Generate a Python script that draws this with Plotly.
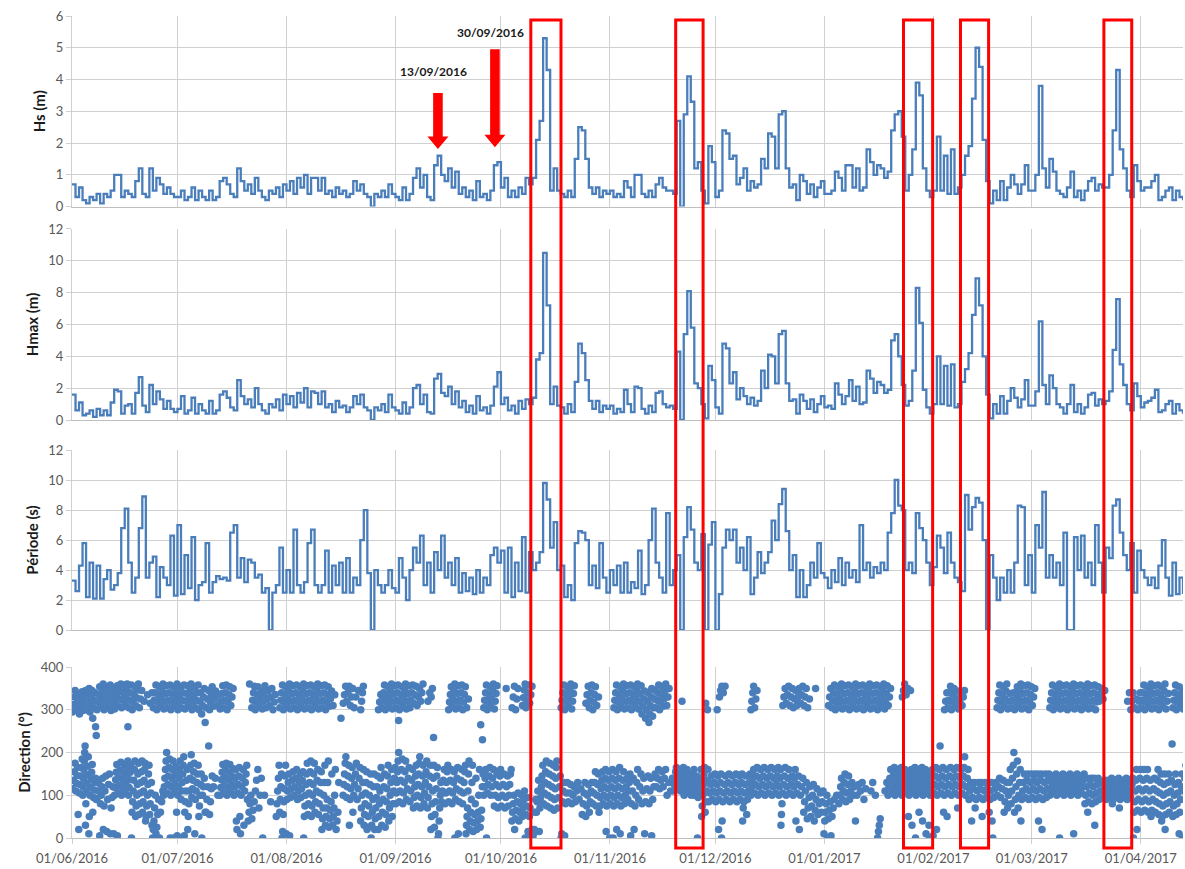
import plotly.graph_objects as go
import pandas as pd

start = pd.Timestamp('2016-06-01')
x_end = '2017-04-13'

# ---- Hs (m), one value per day from 01/06/2016 ----
hs = [
    # Jun
    0.7,0.3,0.6,0.2,0.1,0.3,0.2,0.4,0.1,0.4,0.3,0.5,1.0,1.0,0.3,0.5,0.4,0.3,0.8,1.2,0.4,0.3,1.2,0.5,0.9,0.7,0.4,0.6,0.4,0.3,
    # Jul
    0.3,0.5,0.2,0.3,0.6,0.2,0.5,0.3,0.2,0.5,0.2,0.3,0.8,0.9,0.7,0.4,0.3,1.2,0.8,0.5,0.7,0.4,0.9,0.5,0.3,0.2,0.5,0.4,0.6,0.3,0.7,
    # Aug
    0.5,0.8,0.4,0.9,0.6,1.0,0.4,0.9,0.9,0.5,0.9,0.4,0.5,0.3,0.6,0.4,0.5,0.3,0.4,0.8,0.5,0.7,0.4,0.3,0.0,0.4,0.3,0.5,0.3,0.7,0.4,
    # Sep
    0.3,0.2,0.6,0.2,0.4,0.9,1.2,0.6,1.0,0.3,0.2,1.3,1.6,1.0,0.8,1.2,0.6,1.1,0.4,0.6,0.3,0.5,0.2,0.8,0.3,0.4,0.2,0.5,1.3,1.4,
    # Oct
    0.6,0.9,0.3,0.5,0.3,0.6,0.4,0.9,0.7,0.9,2.1,2.7,5.3,4.3,0.5,1.2,0.5,0.4,0.3,0.5,0.3,1.5,2.5,2.4,1.5,0.6,0.4,0.6,0.3,0.5,0.4,
    # Nov
    0.5,0.3,0.4,0.3,0.8,0.6,0.3,1.0,1.0,0.4,0.3,0.5,0.3,0.7,0.9,0.6,0.5,0.5,0.4,2.7,0.0,2.9,4.1,3.3,1.2,1.4,0.5,0.1,1.9,1.4,
    # Dec
    0.3,0.5,2.4,2.3,1.5,1.6,0.7,0.9,1.2,0.5,0.8,0.6,0.7,1.5,1.2,2.3,2.2,1.2,2.9,3.0,1.2,0.6,0.7,0.2,1.0,0.8,0.4,0.7,0.3,0.6,0.8,
    # Jan
    0.4,0.4,0.5,1.1,0.9,0.5,1.3,1.3,0.6,1.2,0.5,0.6,1.8,1.4,1.0,1.3,1.2,0.9,1.1,2.4,2.9,3.0,2.2,0.5,1.0,1.8,3.9,3.5,1.2,0.5,0.3,
    # Feb
    0.5,2.2,0.5,1.6,0.4,1.8,0.4,0.6,1.0,1.6,1.9,3.4,5.0,4.4,2.1,0.8,0.1,0.5,0.2,0.8,0.2,0.6,1.0,0.7,0.4,0.7,1.3,0.5,
    # Mar
    0.5,1.0,3.8,1.2,0.6,1.5,1.1,0.5,0.4,0.3,0.6,1.1,0.3,0.5,0.2,0.5,0.8,0.9,0.5,0.7,0.6,0.6,1.0,2.4,4.3,1.8,1.2,0.5,0.3,1.3,0.8,
    # Apr
    0.5,0.6,0.6,0.8,1.0,0.2,0.3,0.5,0.6,0.2,0.5,0.3,0.2,
]

# ---- Hmax (m) ----
hmax = [
    1.6,0.6,1.1,0.3,0.4,0.6,0.2,0.7,0.3,0.6,0.3,1.1,1.9,1.8,0.4,0.9,1.0,0.4,1.7,2.7,0.9,0.5,2.2,1.0,1.8,1.3,0.7,1.2,0.7,0.5,
    0.7,1.5,0.4,0.6,1.4,0.4,1.0,0.6,0.4,1.2,0.4,0.6,1.6,1.8,1.4,0.8,0.6,2.5,1.5,1.0,1.3,0.8,2.0,1.0,0.6,0.4,1.0,0.8,1.3,0.6,1.6,
    1.0,1.5,0.8,1.7,1.1,2.0,0.8,1.8,1.7,1.0,1.8,0.8,1.0,0.5,1.2,0.8,0.9,0.5,0.8,1.5,1.0,1.6,0.8,0.6,0.0,0.8,0.6,1.0,0.5,1.6,0.8,
    0.6,0.4,1.1,0.4,0.8,2.0,2.2,1.0,1.6,0.5,0.4,2.6,2.9,1.7,1.5,2.1,1.0,1.8,0.8,1.2,0.5,0.9,0.4,1.5,0.6,0.8,0.4,0.9,2.1,3.0,
    1.0,1.4,0.6,0.9,0.4,1.2,0.7,1.3,1.0,1.4,3.8,4.2,10.5,7.2,1.0,2.1,0.9,0.8,0.4,1.0,0.5,2.4,4.8,4.2,2.5,1.2,0.7,1.2,0.5,0.9,0.7,
    0.9,0.4,0.7,0.5,1.9,1.0,0.5,2.1,2.0,0.7,0.4,0.9,0.5,1.7,1.8,1.0,0.8,0.9,0.7,4.3,0.0,5.4,8.1,5.8,2.3,2.0,1.0,0.1,3.4,2.5,
    0.8,0.4,4.8,4.5,2.3,3.0,1.3,2.0,1.5,1.0,1.4,0.9,1.2,3.1,2.0,4.1,4.0,2.3,5.4,5.6,2.3,1.2,1.3,0.4,1.6,1.2,0.7,1.3,0.5,1.0,1.5,
    0.8,0.9,0.7,2.3,1.6,1.0,1.5,2.5,1.2,2.1,1.0,1.1,3.1,2.6,1.7,2.4,2.2,1.7,1.9,5.0,5.4,4.0,2.2,0.9,1.2,3.1,8.3,6.1,1.9,0.8,0.4,
    1.0,4.0,1.0,3.4,0.9,3.5,0.8,1.0,2.4,3.2,4.2,6.6,8.9,7.2,4.0,1.6,0.1,1.0,0.4,1.5,0.4,1.2,2.0,1.4,0.8,1.3,2.5,0.9,
    0.9,1.8,6.2,2.2,1.0,2.8,2.0,1.0,0.8,0.4,1.0,2.2,0.5,1.0,0.4,0.8,1.6,1.7,0.9,1.3,1.0,1.2,1.8,4.4,7.6,3.5,2.2,1.0,0.6,2.3,1.5,
    0.8,1.1,1.2,1.4,1.9,0.5,0.6,1.0,1.2,0.4,1.0,0.6,0.4,
]

# ---- Période (s) ----
periode = [
    3.3,2.6,4.3,5.8,2.2,4.5,2.1,4.3,2.1,3.4,4.0,2.7,3.0,3.8,6.8,8.1,4.5,2.5,3.5,6.8,8.9,3.5,4.5,4.9,2.2,4.2,3.5,3.0,6.3,2.3,
    7.0,2.4,5.0,2.8,6.2,2.0,3.0,3.2,5.8,2.5,3.2,3.6,3.4,3.5,3.3,6.5,7.0,3.5,4.8,3.2,4.7,4.5,3.5,3.7,2.5,2.8,0.0,2.5,3.0,5.5,2.5,
    4.0,2.5,6.7,3.0,2.5,3.2,5.8,6.7,3.0,2.5,3.0,5.3,2.5,4.3,3.0,4.5,2.5,4.8,2.5,3.5,3.0,6.0,8.0,3.8,0.0,4.0,3.0,2.5,3.0,4.0,2.8,
    2.5,4.8,3.5,2.0,4.0,5.5,4.5,6.3,3.0,4.5,2.5,5.2,4.0,6.3,3.5,4.5,3.0,4.8,2.5,3.8,2.6,3.5,2.4,4.0,2.5,3.5,3.0,5.0,5.5,4.5,
    5.3,2.5,5.5,2.2,4.5,2.6,6.2,2.5,5.2,4.0,4.5,5.2,9.8,8.7,5.5,7.2,4.0,4.3,2.2,3.0,2.0,5.8,6.6,6.5,6.0,3.0,4.3,2.8,5.8,3.5,2.5,
    4.0,3.0,4.3,2.5,4.5,2.5,3.2,2.8,5.3,2.4,3.0,6.0,8.1,4.5,3.5,2.5,7.8,3.0,4.0,5.0,0.0,6.2,8.2,6.7,4.5,4.0,6.4,0.0,5.7,7.2,
    0.0,2.4,5.5,6.7,6.0,6.7,4.5,5.5,4.0,6.2,2.4,3.5,5.2,3.8,4.5,5.2,7.3,6.0,8.4,9.4,6.6,4.0,5.0,2.2,4.0,2.2,3.0,4.5,3.5,5.8,3.8,
    3.5,2.8,4.0,3.2,4.8,3.0,4.5,3.5,4.0,3.2,7.0,4.0,4.5,3.5,4.2,3.8,4.5,4.0,6.5,7.8,10.0,8.3,8.0,4.0,4.5,3.8,7.8,6.8,6.0,4.5,3.0,
    4.2,6.3,5.5,3.8,6.5,4.5,3.5,3.2,2.6,9.0,6.7,8.2,8.8,8.5,6.0,0.0,5.0,3.5,2.0,3.5,2.5,4.0,2.5,4.5,8.3,8.2,3.0,5.0,
    2.5,7.0,5.5,9.2,3.5,5.0,3.5,4.5,3.0,6.5,0.0,0.0,6.2,4.0,6.3,3.5,4.5,3.0,7.0,4.5,2.5,5.5,4.8,8.3,8.7,6.5,5.0,4.0,5.8,2.5,5.3,
    4.0,3.5,3.0,3.5,2.8,4.3,6.0,3.5,2.3,4.5,2.4,3.5,2.4,
]

# ---- Direction (°): readings of each day, NW group (upper) and SE group (lower) ----
dir_upper = [
    # Jun
    [295,312,330,345],[300,318,336],[290,308,325,342],[298,315,333,345],[300,318,336,350],[295,312,330,345,280],[305,322,340,260,240],[300,318,336,354],[309,327,345,360],[300,318,336,354],
    [305,322,340,358],[298,315,333,350],[302,320,338,356],[308,326,344,360],[305,322,340,358],[310,328,346,360,260],[305,322,340,358],[300,318,336,354],[310,328,346,360],[305,325,345],
    [320],[335],[315,340],[305,322,340,358],[300,318,336,354],[308,326,344,360],[302,320,338,356],[305,322,340,358],[300,318,336,354],[308,326,344,360],
    # Jul
    [300,318,336,354],[305,322,340,358],[302,320,338,356],[308,326,344,360],[300,318,336,354],[305,322,340,358],[300,320,340,290],[310,330,350,270],[305,325,345],[300,318,336,354],
    [308,326,344],[310,335],[302,320,338,356],[305,322,340,358],[300,318,336,354],[310,330,350],[],[],[],[],
    [360],[305,322,340,355],[300,318,336,354],[308,326,344],[302,320,338,356],[305,325,345],[310,330,350],[300,318,336],[],[305,322,340,358],
    [300,318,336,354],
    # Aug
    [308,326,344,360],[302,320,338,356],[305,322,340,358],[300,318,336,354],[308,326,344,360],[302,320,338,356],[305,322,340,358],[300,318,336,354],[308,326,344,360],[302,320,338,356],
    [305,322,340,358],[300,318,336,354],[308,326,344],[310,335],[],[280],[315,335,355],[320,340,355],[310,330,350],[305,330],
    [345],[300,320,340,355],[],[],[],[],[300,318,336],[305,322,340,358],[300,318,336,354],[308,326,344,360],
    [302,320,338,356],
    # Sep
    [305,322,340,358,275],[300,318,336,354],[308,326,344,360],[302,320,338,356],[305,322,340,358],[315,335,355],[310,330,350],[320,340,360],[],[320,340],
    [330,350,235],[],[],[],[],[300,318,336,354],[308,326,344,360],[302,320,338,356],[305,322,340,358],[300,318,336,354],
    [305,325],[],[],[],[265,230],[305,322,340,358],[300,318,336,354],[308,326,344,360],[302,320,338,356],[],
    # Oct
    [],[350],[],[305,330,355],[300,325,350],[],[310,328,346,360],[305,322,340,358],[315,335,355],[],
    [],[],[],[],[],[],[],[305,322,340,358],[300,318,336,354],[308,326,344,360],
    [302,320,338,356],[],[],[],[315,335,355],[305,322,340,358],[300,318,336,354],[310,330],[],[],
    [],
    # Nov
    [],[305,322,340,358],[300,318,336,354],[308,326,344,360],[302,320,338,356],[305,322,340,358],[300,318,336,354],[308,326,344,360],[302,320,338,356],[290,308,326,344],
    [280,300,320,340],[270,290,310,330,350],[285,305,325,345],[305,322,340,358],[300,318,336,354],[308,326,344,360],[310,330,350],[],[],[],
    [320],[],[],[],[],[],[],[315,300],[],[],
    # Dec
    [300],[330,345,355],[340,355],[],[],[],[],[],[],[],
    [300,320,340,355],[305,325,345],[],[],[],[],[],[],[],[310,330,350],
    [315,335,355],[310,330,350],[305,325,345],[310,330,350],[315,335,355],[310,330,350],[305,325],[],[350],[],
    [],
    # Jan
    [],[310,330,350],[305,322,340,358],[300,318,336,354],[308,326,344,360],[302,320,338,356],[305,322,340,358],[300,318,336,354],[308,326,344,360],[302,320,338,356],
    [305,322,340,358],[300,318,336,354],[308,326,344,360],[302,320,338,356],[305,322,340,358],[300,318,336,354],[308,326,344,360],[302,320,338,356],[310,330,350],[],
    [],[],[330,345,360],[335,350],[345],[],[],[],[],[],
    [],
    # Feb
    [],[],[],[300,320,340],[305,322,340,355],[300,318,336,350],[308,326,344],[302,320,338],[310,330,345],[],
    [],[],[],[],[],[],[],[],[305,322,340,358],[300,318,336,354],
    [308,326,344,360],[302,320,338],[305,322,340],[300,318,336,354],[308,326,344,360],[302,320,338,356],[305,322,340,358],[300,318,336,354],
    # Mar
    [310,330,350],[],[],[],[],[305,322,340,358],[300,318,336,354],[308,326,344,360],[302,320,338,356],[305,322,340,358],
    [300,318,336,354],[308,326,344,360],[302,320,338,356],[305,322,340,358],[300,318,336,354],[308,326,344,360],[302,320,338,356],[305,322,340,358],[300,318,336,354],[320,335,350],
    [325,345],[],[],[],[],[],[],[320,340],[300,320,340],[305,325],
    [300,320,340],
    # Apr
    [305,322,340,358],[300,318,336,354],[308,326,344,360],[302,320,338,356],[305,322,340,358],[300,318,336,354],[308,326,344,360],[302,320,338],[],[305,322,340,358],
    [300,318,336,354],[308,326,344],[302,320,338,356],
]

dir_lower = [
    # Jun
    [115,135,155,175],[110,128,146,165,55,20],[105,125,145,165,185],[100,120,140,160,180,200,215,30,80],[108,128,148,168,190,10,50],[100,118,136,154,172,60],[95,112,130,140,90],[92,110,128,5],[80,100,120,140,20],[75,110,145,15],
    [90,125,150,10],[70,95,120,10],[100,118,136,154,172,5],[105,123,141,159,177],[100,118,136,154,172],[108,126,144,162,180],[100,118,136,154,172,0],[60,85,110,135,160,180],[50,75,100,125,150,175],[55,80,105,130,155,180],
    [60,85,110,135,160,175,40],[50,75,100,125,150,170],[55,80,105,130,30,0],[20,40,70,100,10],[25,55,90,0],[60,85,110],[100,120,140,160,180,200],[105,125,145,165,185,0],[100,120,140,160,180,0],[108,128,148,168,60,5],
    # Jul
    [100,120,140,160,180,0],[90,110,130,150,170,190,5],[60,85,110,135,160,20],[50,80,110,140,170,195],[95,115,135,155,175,10],[90,110,130,150,170],[50,75,100,125,150,0],[100,120,140,60],[60,90,120,215],[55,85,115,145],
    [120,140],[100],[100,118,136,154,172],[105,123,141,159,175],[100,118,136,154,172],[108,126,144,162],[100,120,140,160,40,20],[105,125,145,165,50,10],[100,120,140,160,30],[110,130,150,170,90],
    [40,60,80,100],[45,65,85],[110,135,160],[70,100,140],[0,100],[],[85],[],[50,80,110,140,170],[60,90,120,150,0,15],
    [55,85,115,145,170,10],
    # Aug
    [90,110,130,150,5],[95,115,135,155],[100,120,140,160],[90,110,130,150],[95,115,135,155,0],[50,75,100,125,150,175],[55,80,105,130,155,180],[50,75,100,125,150,175],[60,85,110,135,160],[55,80,105,130,155],
    [20,45,70,100,130,170],[30,50,70,90,130,180],[25,45,65,85,150],[30,50,70,100,160],[20,40,60,130],[],[100,125,150,175,190],[95,120,145,170,30],[90,115,140,165,60],[100,125,150,175],
    [90,115,140,165],[40,70,100,130,160],[30,55,80,105,130,155,20],[25,50,75,100,125,150],[0,30,60,90,120,150],[20,45,70,95,120,145],[20,50,80,110,140,165],[30,60,90,120,150],[25,55,85,115,145,170],[40,70,100,130,160],
    [50,80,110,140,165],
    # Sep
    [80,105,130,155,180,200],[85,110,135,160,185],[80,105,130,155,180],[90,115,140,165],[85,110,135,160],[70,95,120,145,170],[75,100,125,150,175,190],[70,95,120,145,170],[80,105,130,155,180],[70,95,120,145,170],
    [20,50,80,110,140,170],[25,55,85,115,145,165],[0,10,40,70,100,130],[85,110,135,160],[80,105,130,155,170],[85,110,135,160],[80,105,130,155,0],[90,115,140,165,10],[85,110,135,160],[80,105,130,155,170],
    [10,30,50,70,110,150,180],[20,40,60,90,130,170],[15,35,55,80,140],[20,40,60,100,160],[25,45,65,120,150],[100,120,140,160,0],[105,125,145,165],[100,120,140,160],[75,100,125,150],[70,95,120,145,160],
    # Oct
    [75,100,125,150],[70,95,120,145],[75,100,125,150,160],[40,60,80,100,20],[45,65,85,105],[40,60,80,100],[50,70,90,110,0],[55,75,95,15,5],[50,70,10,0,20],[0,10,20,60,90],
    [60,85,110,135,15],[70,95,120,145,170],[80,105,130,155,180],[75,100,125,150,175],[70,95,120,145,170],[65,90,115,140,165,180],[70,95,120,145],[0,10,85,110,130],[5,80,105,130],[85,105,125],
    [80,100,120],[85,110,130],[90,115],[55,80,105,130],[50,75,100,125],[60,85,110,130],[80,105,130,155],[75,100,125,150,60],[75,95,115,135,155],[80,100,120,140,160,15],
    [75,95,115,135,155,0],
    # Nov
    [80,100,120,140,160,0],[75,95,115,135,155,20],[80,100,120,140,165,10],[75,95,115,135,155],[80,100,120,140],[90,110,130,150,5],[80,110,140,20],[75,100,130,160],[90,120,150],[80,110,140,10],
    [85,115,145],[80,110,140,5],[90,120,150],[120,140,160],[115,135,155],[120,140,160],[100,130],[110,140],[110,125,140,155,165],[115,130,145,160],
    [110,125,140,155,165],[100,115,130,145,160],[105,120,135,150],[100,115,130,145,160],[100,115,130,145,0],[95,110,125,140,160],[50,75,100,125,150,165],[60,85,110,135,160],[85,105,125,145],[90,110,130,150],
    # Dec
    [85,105,125,145,20],[90,110,130,150,0,40],[85,105,125,145],[90,110,130,150],[85,105,125,145],[90,110,130,150],[85,105,125,145],[90,110,130,150,40,70],[85,105,125,145,55],[90,110,130,150],
    [100,120,140,160],[105,125,145,165],[100,120,140,160],[105,125,145,165],[100,120,140,160],[105,125,145,165],[100,120,140,160],[105,125,145,165],[100,120,140,160,30,55,80],[105,125,145,165],
    [100,120,140,160],[105,125,145],[100,120,140,160,40],[105,125,145,20],[100,120,140],[60,85,110,130],[45,70,95,120],[50,75,100,125],[40,65,90,115],[55,80,105],
    [60,85,110,10],
    # Jan
    [40,60,80,100,0],[45,65,85,5],[50,70,90],[100],[80,100,120,140],[90,110,130,150],[85,105,125,145],[90,110,130],[100,120,40],[100,125],
    [110,130],[90,115],[],[110,130],[100],[0,15,30,45],[],[110,130],[100,120,140,160],[105,120,135,150,165],
    [100,115,130,145,160],[105,120,135,150,165],[100,115,130,145,160],[105,120,135,150,50],[100,115,130,145,160,30],[105,120,135,150,165,0],[100,115,130,145,160,60],[105,120,135,150,165,40],[100,115,130,145,160,10],[105,120,135,150,30,0],
    [100,115,130,145,160,5],
    # Feb
    [105,125,145,165,20],[100,120,140,160,215],[105,125,145,165,60],[100,120,140,160,50],[105,125,145,165],[100,120,140,160],[105,125,145,165,70],[100,120,140,160],[105,125,145,165,190],[100,120,140,160],
    [90,110,130,40],[95,115,130,70],[90,110,130],[95,115,130,50],[90,110,130],[95,115,130,60],[90,110,130,40,0],[95,115,130],[100,120,140],[95,115,135],
    [60,85,110,130],[70,100,130,160],[80,110,140,170,200],[60,90,120,150,180],[70,100,130,160,40],[90,110,130,150],[95,115,135,150],[90,110,130,150],
    # Mar
    [95,115,135,150],[90,110,130,150,40],[95,115,135,150,20],[90,110,130,150],[95,115,135,150],[100,115,130,145],[105,120,135,150],[100,115,130,145,0],[105,120,135,150],[100,115,130,145],
    [105,120,135,150],[100,115,130,145,10],[105,120,135,150],[100,115,130,145],[105,120,135,150],[80,100,120,140,60],[85,105,125,140],[80,100,120,140,30],[85,105,125,140],[90,110,130],
    [95,115,135],[90,105,120,135],[95,110,125,140,80],[90,105,120,135],[95,110,125,140,70],[90,105,120,135],[95,110,125,140],[90,105,120,135],[95,110,125,140,0],[60,85,110,135,160,20],
    [65,90,115,140,160],
    # Apr
    [60,85,110,135,160],[65,90,115,140,160],[60,85,110,135,50],[65,90,115,140],[60,85,110,135,160],[55,80,105,130,150,40],[50,75,100,125,150,20],[55,80,105,130,150],[60,85,110,135,220],[50,75,100,125,150],
    [55,80,105,130,10],[60,90,120,150,0],[110,140,170],
]

# ---- highlighted storm windows and arrows ----
box_start = ['2016-10-09 12:00', '2016-11-19 17:00', '2017-01-23 12:00', '2017-02-08 17:00', '2017-03-21 12:00']
box_end = ['2016-10-18 02:00', '2016-11-27 12:00', '2017-01-31 19:00', '2017-02-16 17:00', '2017-03-29 10:00']
arrow_dates = ['2016-09-13 02:00', '2016-09-29 07:00']
arrow_tip_hs = [1.81, 1.87]
arrow_len_px = [56, 98]
arrow_labels = ['13/09/2016', '30/09/2016']
label_dates = ['2016-09-11 17:00', '2016-09-27 22:00']
label_hs = [4.26, 5.48]

BLUE = '#4A7EBB'
GRID = '#D0D0D0'
TICKC = '#595959'
FONT = 'Lato'


def day_axis(n):
    return pd.date_range(start, periods=n, freq='D')


fig = go.Figure()
for series, xs in ((hs, 'x'), (hmax, 'x2'), (periode, 'x3')):
    fig.add_trace(go.Scatter(x=day_axis(len(series)), y=series, mode='lines',
                             line=dict(color=BLUE, width=2.3, shape='hv'),
                             xaxis=xs, yaxis=xs.replace('x', 'y')))

dx, dy = [], []
for groups in (dir_upper, dir_lower):
    for i, group in enumerate(groups):
        for k, v in enumerate(group):
            dx.append(start + pd.Timedelta(days=i + (k + 0.5) / len(group)))
            dy.append(v)
fig.add_trace(go.Scatter(x=dx, y=dy, mode='markers',
                         marker=dict(color=BLUE, size=7.5, line=dict(width=0)),
                         xaxis='x4', yaxis='y4'))

tickfont = dict(family=FONT, size=13, color=TICKC)
titlefont = dict(family=FONT, size=15, color='#1a1a1a')

xbase = dict(type='date', range=[start, x_end], dtick='M1', tick0='2016-06-01',
             showgrid=True, gridcolor=GRID, gridwidth=1, zeroline=False,
             showline=True, linecolor='#BFBFBF', linewidth=1, automargin=False)

ybase = dict(showgrid=True, gridcolor=GRID, gridwidth=1, zeroline=False,
             showline=True, linecolor=GRID, linewidth=1, ticks='outside', ticklen=5,
             tickcolor=GRID, tickfont=tickfont, automargin=False, fixedrange=True)

doms = [[0.7682, 1.0], [0.5085, 0.7409], [0.2530, 0.4720], [0.0, 0.2080]]
titles = ['<b>Hs (m)</b>', '<b>Hmax (m)</b>', '<b>Période (s)</b>', '<b>Direction (°)</b>']
yranges = [[0, 6], [0, 12], [0, 12], [0, 400]]
ydticks = [1, 2, 2, 100]

layout = dict(
    width=1185, height=869, template='none',
    paper_bgcolor='white', plot_bgcolor='white',
    margin=dict(l=72, r=2, t=16, b=31),
    showlegend=False, font=dict(family=FONT),
)
for j in range(4):
    xs = '' if j == 0 else str(j + 1)
    xa = dict(xbase, anchor='y' + xs)
    if j < 3:
        xa.update(showticklabels=False, ticks='')
    else:
        xa.update(showticklabels=True, tickformat='%d/%m/%Y', ticks='outside',
                  ticklen=5, tickcolor=GRID, tickfont=tickfont, ticklabelstandoff=3)
    layout['xaxis' + xs] = xa
    ya = dict(ybase, anchor='x' + xs, domain=doms[j], range=yranges[j], dtick=ydticks[j],
              title=dict(text=titles[j], font=titlefont, standoff=6))
    layout['yaxis' + xs] = ya
fig.update_layout(**layout)

shapes = []
for s, e in zip(box_start, box_end):
    shapes.append(dict(type='rect', xref='x4', yref='paper', x0=s, x1=e,
                       y0=-0.0122, y1=0.9951, line=dict(color='#FF0000', width=3),
                       fillcolor='rgba(0,0,0,0)', layer='above'))
for d, tip, ln in zip(arrow_dates, arrow_tip_hs, arrow_len_px):
    path = 'M0,0 L10.5,12.5 L4.8,12.5 L4.8,{0} L-4.8,{0} L-4.8,12.5 L-10.5,12.5 Z'.format(ln)
    shapes.append(dict(type='path', xref='x', yref='y', xsizemode='pixel', ysizemode='pixel',
                       xanchor=d, yanchor=tip, path=path, fillcolor='#FF0000',
                       line=dict(width=0), layer='above'))
fig.update_layout(shapes=shapes)

for d, t, yv in zip(label_dates, arrow_labels, label_hs):
    fig.add_annotation(x=d, y=yv, xref='x', yref='y', text='<b>' + t + '</b>',
                       showarrow=False, font=dict(family=FONT, size=12, color='#1a1a1a'))

fig.write_html('out.html', config={'displayModeBar': False},
               post_script="document.body.style.margin='0px';")
